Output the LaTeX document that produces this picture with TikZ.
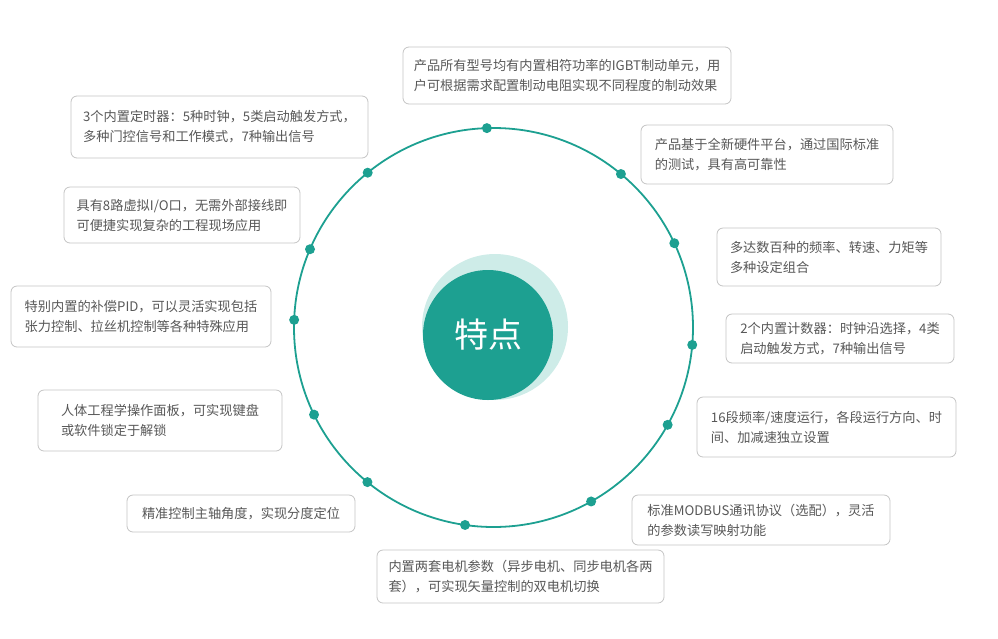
\documentclass[tikz,border=0pt]{standalone}
\usepackage{fontspec}
\setmainfont{Noto Sans CJK SC}
\usetikzlibrary{positioning,calc}
\definecolor{ringcolor}{RGB}{29,160,145}
\definecolor{halocolor}{RGB}{206,236,232}
\definecolor{txtcolor}{RGB}{88,88,88}
\definecolor{boxcolor}{RGB}{196,196,196}
\tikzset{
  % rounded feature boxes
  featbox/.style={draw=boxcolor, line width=0.8pt, rounded corners=6pt, fill=white,
    text=txtcolor, align=left, inner sep=0pt,
    font=\fontsize{13.2}{20}\selectfont},
  % small dots sitting on the ring
  ringdot/.style={circle, fill=ringcolor, minimum size=10pt, inner sep=0pt},
  % the big ring
  ringln/.style={draw=ringcolor, line width=1.8pt},
}
\begin{document}
\begin{tikzpicture}[x=1pt, y=-1pt]
    \useasboundingbox (0,0) rectangle (998,638);
    % centre of the ring
    \coordinate (ctr) at (493.5,327.5);
    % halo and centre disc
    \fill[halocolor] (495,327) circle (73);
    \node[circle, fill=ringcolor, minimum size=130pt, inner sep=0pt, text=white,
      font=\fontsize{34}{40}\selectfont] (core) at (488,335) {特点};
    % the ring
    \draw[ringln] (ctr) circle (199.5);
    % dots on the ring (angles measured clockwise on screen)
    \foreach \a [count=\i] in {268.1,230.9,309.7,203.1,335,182.2,5,154.1,29.2,129.2,60.7,98.2}
      \node[ringdot] (d\i) at ($(ctr)+(\a:199.5)$) {};
    % feature boxes
    \node[featbox, minimum width=328pt, minimum height=57pt] (f1) at (567,75.5)
      {产品所有型号均有内置相符功率的IGBT制动单元，用\\户可根据需求配置制动电阻实现不同程度的制动效果};
    \node[featbox, minimum width=297pt, minimum height=62pt] (f2) at (219.5,127)
      {3个内置定时器：5种时钟，5类启动触发方式，\\多种门控信号和工作模式，7种输出信号};
    \node[featbox, minimum width=252pt, minimum height=59pt] (f3) at (767,154.5)
      {产品基于全新硬件平台，通过国际标准\\的测试，具有高可靠性};
    \node[featbox, minimum width=236pt, minimum height=56pt] (f4) at (182,215)
      {具有8路虚拟I/O口，无需外部接线即\\可便捷实现复杂的工程现场应用};
    \node[featbox, minimum width=224pt, minimum height=58pt] (f5) at (829,257)
      {多达数百种的频率、转速、力矩等\\多种设定组合};
    \node[featbox, minimum width=260pt, minimum height=61pt] (f6) at (141,316.5)
      {特别内置的补偿PID，可以灵活实现包括\\张力控制、拉丝机控制等各种特殊应用};
    \node[featbox, minimum width=228pt, minimum height=49pt] (f7) at (840,338.5)
      {2个内置计数器：时钟沿选择，4类\\启动触发方式，7种输出信号};
    \node[featbox, minimum width=244pt, minimum height=61pt] (f8) at (160,420.5)
      {人体工程学操作面板，可实现键盘\\或软件锁定于解锁};
    \node[featbox, minimum width=259pt, minimum height=60pt] (f9) at (826.5,427)
      {16段频率/速度运行，各段运行方向、时\\间、加减速独立设置};
    \node[featbox, minimum width=228pt, minimum height=37pt] (f10) at (241,513.5)
      {精准控制主轴角度，实现分度定位};
    \node[featbox, minimum width=258pt, minimum height=50pt] (f11) at (761,520)
      {标准MODBUS通讯协议（选配），灵活\\的参数读写映射功能};
    \node[featbox, minimum width=287pt, minimum height=53pt] (f12) at (520.5,576.5)
      {内置两套电机参数（异步电机、同步电机各两\\套），可实现矢量控制的双电机切换};
  \end{tikzpicture}
\end{document}
